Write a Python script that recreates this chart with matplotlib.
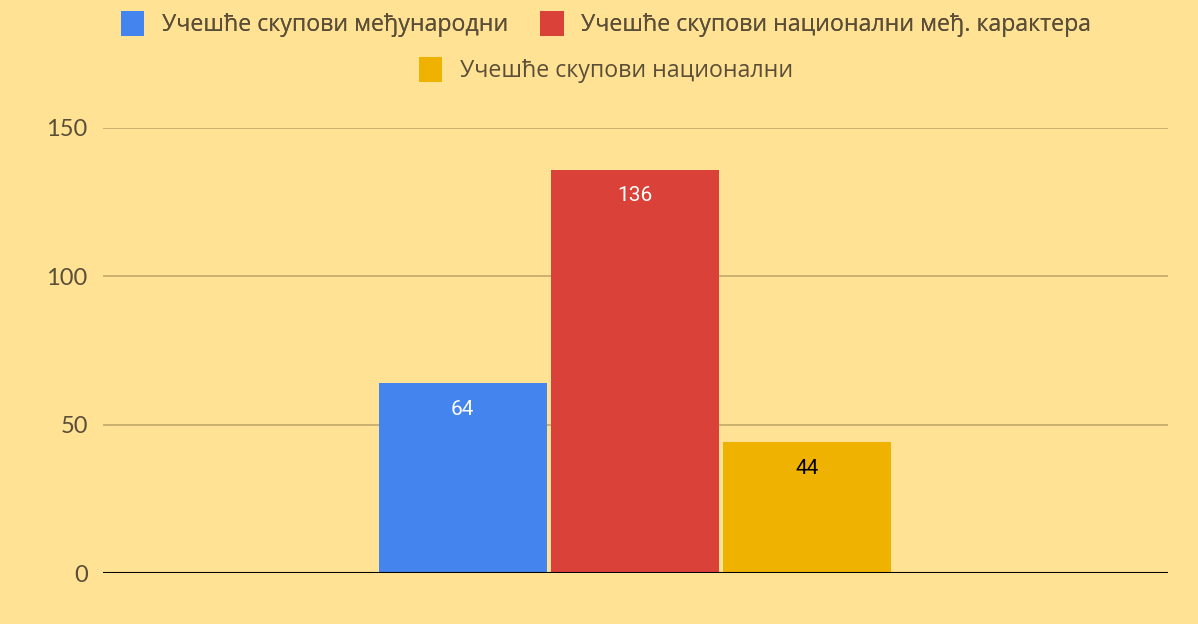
import matplotlib.pyplot as plt

# data
series = ['Учешће скупови међународни',
          'Учешће скупови национални међ. карактера',
          'Учешће скупови национални']
values = [64, 136, 44]
colors = ['#4384ef', '#da4138', '#efb200']
label_colors = ['white', 'white', 'black']
yticks = [0, 50, 100, 150]

bg = '#ffe294'
text_col = '#5b4e38'

plt.rcParams['font.family'] = ['Lato', 'DejaVu Sans']

fig = plt.figure(figsize=(11.98, 6.24), dpi=100, facecolor=bg)
ax = fig.add_axes([0.086, 0.0817, 0.889, 0.7132], facecolor=bg)

handles = []
for i, (name, v, c, lc) in enumerate(zip(series, values, colors, label_colors)):
    b = ax.bar(i, v, width=0.975, color=c, label=name, zorder=3)
    ax.annotate(str(v), xy=(i, v), xytext=(0, -19), textcoords='offset points',
                ha='center', va='center', color=lc, fontsize=15,
                family='Roboto', zorder=4)
    handles.append(b)

ax.set_xlim(-2.09, 4.10)
ax.set_ylim(0, 150)
ax.set_yticks(yticks)
ax.set_xticks([])
ax.grid(axis='y', color='#c6ad6e', linewidth=1.3, zorder=0)
ax.axhline(0, color='black', linewidth=1.5, zorder=5)
for s in ax.spines.values():
    s.set_visible(False)
ax.tick_params(axis='y', length=0, pad=11, labelsize=17, labelcolor=text_col)

# legend: two items on the first row, one centered below
leg_kw = dict(frameon=False, prop={'family': 'Open Sans', 'size': 16.7},
              labelcolor=text_col, handlelength=1.0, handleheight=1.3,
              handletextpad=0.75, columnspacing=1.4)
leg1 = fig.legend(handles[:2], series[:2], ncol=2, loc='center',
                  bbox_to_anchor=(606 / 1198, 1 - 24 / 624), **leg_kw)
fig.add_artist(leg1)
fig.legend(handles[2:], series[2:], ncol=1, loc='center',
           bbox_to_anchor=(606 / 1198, 1 - 70 / 624), **leg_kw)

fig.savefig('out.png', dpi=100, facecolor=bg)
